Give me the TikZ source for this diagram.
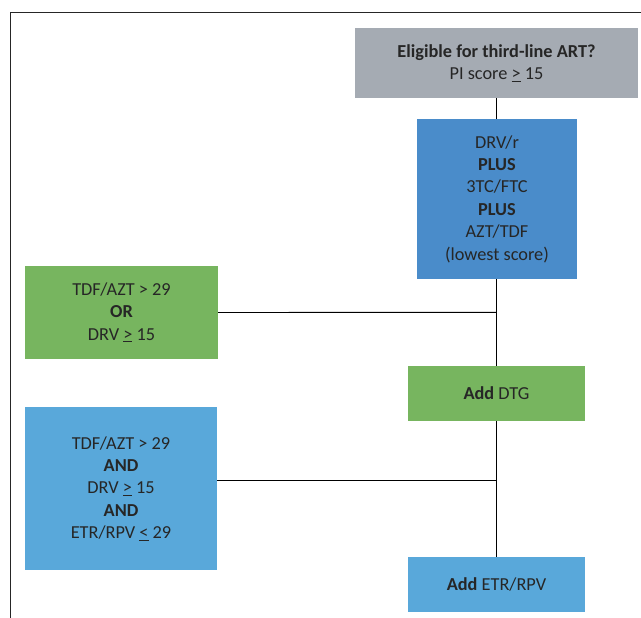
\documentclass[tikz,border=0pt]{standalone}
\usepackage{fontspec}
\setmainfont{Carlito}
\definecolor{txt}{HTML}{262626}
\definecolor{graybox}{HTML}{A5ABB3}
\definecolor{blueA}{HTML}{4A8CCA}
\definecolor{greenA}{HTML}{77B55F}
\definecolor{blueB}{HTML}{59A8DA}
\begin{document}
\begin{tikzpicture}[x=1pt,y=-1pt,
  box/.style={inner sep=0pt, outer sep=0pt, align=center, text=txt,
    font=\fontsize{18.3}{22.4}\selectfont, anchor=north west},
  conn/.style={black, line width=0.9pt},
  frame/.style={black!85, line width=1pt}]
\useasboundingbox (0,0) rectangle (641,618);
\draw[frame] (10.5,618) -- (10.5,13) -- (641,13);
% vertical trunk
\coordinate (top) at (496.5,98);
\coordinate (bot) at (496.5,557);
\draw[conn] (top) -- (bot);
\coordinate (j1) at (496.5,312.3);
\coordinate (j2) at (496.5,480.7);
% boxes
\node[box, fill=graybox, minimum width=283, minimum height=70] (elig) at (355,28)
  {\textbf{Eligible for third-line ART?}\\PI score \underline{>} 15};
\node[box, fill=blueA, minimum width=160, minimum height=160] (reg) at (417,119)
  {DRV/r\\\textbf{PLUS}\\3TC/FTC\\\textbf{PLUS}\\AZT/TDF\\(lowest score)};
\node[box, fill=greenA, minimum width=193, minimum height=93] (cond1) at (25,266)
  {TDF/AZT > 29\\\textbf{OR}\\DRV \underline{>} 15};
\node[box, fill=greenA, minimum width=177, minimum height=55] (dtg) at (408,366)
  {\textbf{Add} DTG};
\node[box, fill=blueB, minimum width=192, minimum height=163] (cond2) at (25,407)
  {TDF/AZT > 29\\\textbf{AND}\\DRV \underline{>} 15\\\textbf{AND}\\ETR/RPV \underline{<} 29};
\node[box, fill=blueB, minimum width=177, minimum height=55] (etr) at (408,557)
  {\textbf{Add} ETR/RPV};
\draw[conn] (cond1.east) -- (j1);
\draw[conn] (cond2.east |- j2) -- (j2);
\end{tikzpicture}
\end{document}
